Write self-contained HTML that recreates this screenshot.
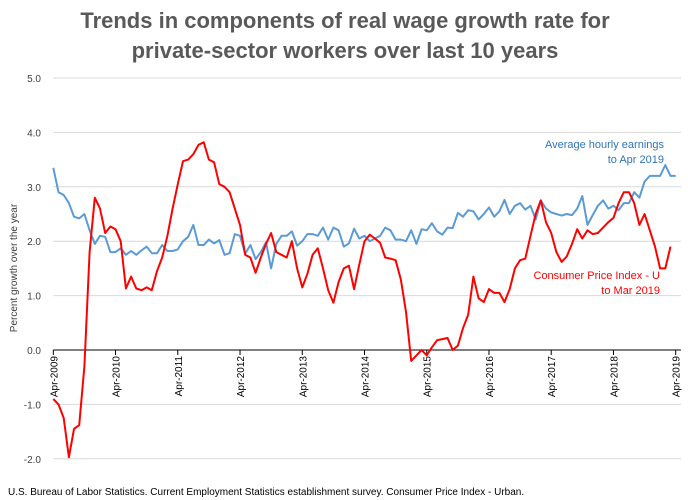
<!DOCTYPE html>
<html><head><meta charset="utf-8"><style>
body{margin:0;background:#fff;}
svg{display:block;font-family:"Liberation Sans",sans-serif;}
</style></head><body>
<svg id="chart" width="688" height="500">
<text x="345" y="28" text-anchor="middle" font-size="22" font-weight="bold" fill="#595959">Trends in components of real wage growth rate for</text>
<text x="345" y="58" text-anchor="middle" font-size="22" font-weight="bold" fill="#595959">private-sector workers over last 10 years</text>
<text transform="translate(17,268) rotate(-90)" text-anchor="middle" font-size="10" fill="#404040">Percent growth over the year</text>
<text x="8" y="495" font-size="10" fill="#000">U.S. Bureau of Labor Statistics. Current Employment Statistics establishment survey. Consumer Price Index - Urban.</text>
<text x="664" y="148" text-anchor="end" font-size="11" fill="#2e75b6">Average hourly earnings</text>
<text x="664" y="163" text-anchor="end" font-size="11" fill="#2e75b6">to Apr 2019</text>
<text x="660" y="279" text-anchor="end" font-size="11" fill="#ff0000">Consumer Price Index - U</text>
<text x="660" y="294" text-anchor="end" font-size="11" fill="#ff0000">to Mar 2019</text>
<g id="grid"></g><g id="axes"></g><g id="series"></g>
</svg>
<script>
const yTicks=[-2,-1,0,1,2,3,4,5];
const xLabels=["Apr-2009","Apr-2010","Apr-2011","Apr-2012","Apr-2013","Apr-2014","Apr-2015","Apr-2016","Apr-2017","Apr-2018","Apr-2019"];
const earnings=[3.35,2.9,2.85,2.7,2.45,2.42,2.5,2.2,1.95,2.1,2.08,1.8,1.8,1.87,1.75,1.82,1.75,1.83,1.9,1.78,1.78,1.93,1.82,1.82,1.85,2.0,2.08,2.3,1.93,1.93,2.03,1.96,2.02,1.75,1.78,2.13,2.1,1.77,1.93,1.67,1.8,1.98,1.5,1.95,2.1,2.1,2.18,1.92,2.0,2.13,2.13,2.1,2.25,2.03,2.25,2.2,1.9,1.96,2.23,2.05,2.1,
2.0,2.05,2.1,2.25,2.2,2.03,2.03,2.0,2.2,1.95,2.22,2.2,2.33,2.18,2.12,2.25,2.24,2.52,2.45,2.57,2.55,2.4,2.5,2.62,2.45,2.55,2.76,2.5,2.65,2.7,2.58,2.65,2.4,2.75,2.6,2.53,2.5,2.47,2.5,2.48,2.6,2.83,2.3,2.48,2.65,2.75,2.6,2.65,2.57,2.7,2.7,2.9,2.8,3.1,3.2,3.2,3.2,3.4,3.2,3.2];
const cpi=[-0.9,-1.0,-1.25,-1.97,-1.45,-1.38,-0.3,1.8,2.8,2.6,2.15,2.27,2.22,2.0,1.13,1.35,1.13,1.1,1.15,1.1,1.45,1.7,2.1,2.6,3.05,3.47,3.5,3.6,3.77,3.82,3.5,3.45,3.05,3.0,2.9,2.6,2.3,1.75,1.7,1.42,1.7,1.95,2.15,1.8,1.75,1.7,2.0,1.5,1.15,1.4,1.75,1.87,1.5,1.1,0.87,1.25,1.5,1.55,1.12,1.57,2.0,2.12,2.05,1.97,1.7,1.68,1.65,1.3,0.7,-0.2,-0.1,0.0,-0.1,0.05,0.18,0.2,0.22,0.0,0.08,0.4,0.65,1.35,0.95,0.88,1.12,1.05,1.05,0.88,1.12,1.5,1.65,1.68,2.1,2.5,2.75,2.35,2.15,1.8,1.62,1.72,1.95,2.22,2.05,2.2,2.13,2.15,2.25,2.35,2.43,2.7,2.9,2.9,2.7,2.3,2.5,2.2,1.9,1.5,1.5,1.9];
const NS="http://www.w3.org/2000/svg";
const X0=53.3,X1=675.7,Y0=350,PU=54.4,MONTHS=120;
const xs=i=>X0+(X1-X0)*i/MONTHS;
const ys=v=>Y0-v*PU;
function mk(t,a,p){const e=document.createElementNS(NS,t);for(const k in a)e.setAttribute(k,a[k]);p.appendChild(e);return e;}
const grid=document.getElementById('grid'),axes=document.getElementById('axes'),ser=document.getElementById('series');
yTicks.forEach(v=>{
  if(v!==0){const l=mk('line',{x1:X0,x2:681,y1:ys(v),y2:ys(v),stroke:'#d9d9d9','stroke-width':1},grid);
  
  }
  const t=mk('text',{x:41,y:ys(v)+4,'text-anchor':'end','font-size':10,fill:'#404040'},axes);
  t.textContent=v.toFixed(1);
  
  
});
const ax=mk('line',{x1:X0,x2:681,y1:Y0,y2:Y0,stroke:'#000','stroke-width':1},axes);


xLabels.forEach((s,i)=>{
  const x=xs(i*12);
  const tk=mk('line',{x1:x,x2:x,y1:Y0,y2:Y0+5,stroke:'#000'},axes);
  
  
  const t=mk('text',{transform:`translate(${x+4},${Y0+6}) rotate(-90)`,'text-anchor':'end','font-size':10,fill:'#000'},axes);
  t.textContent=s;
  
  
});
function line(arr,col,name){
  const p=mk('polyline',{points:arr.map((v,i)=>xs(i).toFixed(1)+','+ys(v).toFixed(1)).join(' '),fill:'none',stroke:col,'stroke-width':2,'stroke-linejoin':'round'},ser);
  
  
}
line(earnings,'#5b9bd5','earnings-line');
line(cpi,'#ff0000','cpi-line');
</script>
</body></html>
